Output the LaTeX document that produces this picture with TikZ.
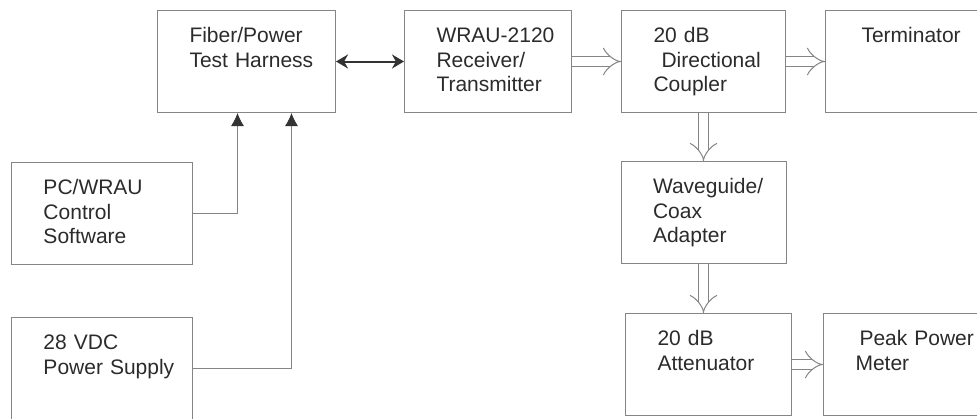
\documentclass[tikz,border=0pt]{standalone}
\usepackage{fontspec}
\setmainfont{Liberation Sans}
\usepackage{xcolor}
\usetikzlibrary{arrows.meta,positioning}
\definecolor{cLine}{HTML}{858585}
\definecolor{cText}{HTML}{2B2B2B}
\definecolor{cDark}{HTML}{333333}

\begin{document}
\begin{tikzpicture}[
    x=1pt, y=-1pt,
    font=\fontsize{21}{24.5}\selectfont,
    >={Latex[length=13pt,width=13pt,color=cDark]},
    blk/.style={rectangle, draw=cLine, line width=1pt, text=cText, align=left,
      text width=#1, inner xsep=0pt, inner ysep=0pt, text height=32pt, text depth=70pt,
      execute at begin node={\leftskip=32pt}},
    wire/.style={->, draw=cLine, line width=0.8pt},
    link/.style={{Stealth[length=12pt,width=14pt]}-{Stealth[length=12pt,width=14pt]},
      draw=cDark, line width=2pt},
    pipe/.style={-{Implies[scale length=0.45,scale width=0.65]}, draw=cLine, line width=1pt,
      double=white, double distance=9pt},
    node distance=48pt and 49pt]

    \useasboundingbox (0,0) rectangle (977,418);

    % top row
    \node[blk=178pt, anchor=north west] (fib) at (157,10) {Fiber/Power\\Test Harness};
    \node[blk=167pt, right=68pt of fib] (wrau) {WRAU-2120\\Receiver/\\Transmitter};
    \node[blk=164pt, right=of wrau] (cpl) {20 dB\\\hspace*{8pt}Directional\\Coupler};
    \node[blk=152pt, right=39pt of cpl] (term) {\hspace*{4pt}Terminator};

    % measurement chain
    \node[blk=165pt, below=of cpl] (wg) {Waveguide/\\Coax\\Adapter};
    \node[blk=166pt, below=49pt of wg, xshift=5pt] (att) {20 dB\\Attenuator};
    \node[blk=155pt, right=31pt of att] (pk) {\hspace*{4pt}Peak Power\\Meter};

    % control side
    \node[blk=181pt, anchor=north west] (pc) at (11,162) {PC/WRAU\\Control\\Software};
    \node[blk=181pt, below=52pt of pc] (psu) {28 VDC\\Power Supply};

    \draw[link] (fib.east) -- (wrau.west);
    \draw[pipe] (wrau) -- (cpl);
    \draw[pipe] (cpl) -- (term);
    \draw[pipe] (cpl) -- (wg);
    \draw[pipe] (wg.south) -- (wg.south |- att.north);
    \draw[pipe] (att) -- (pk);

    \draw[wire] (pc.east) -| ([xshift=-9pt]fib.south);
    \draw[wire] (psu.east) -| ([xshift=45pt]fib.south);
\end{tikzpicture}
\end{document}
